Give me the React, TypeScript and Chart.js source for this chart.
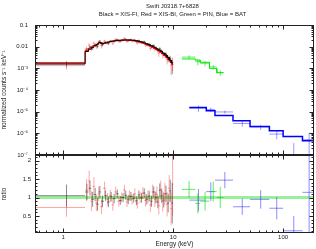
import { useEffect, useRef } from 'react';
import { Chart, registerables } from 'chart.js';

Chart.register(...registerables);

const W = 316;
const H = 249;
const FONT = "'Liberation Sans', Arial, Helvetica, sans-serif";
const INK = '#222';

const TITLE = 'Swift J0318.7+6828';
const SUBTITLE = 'Black = XIS-FI, Red = XIS-BI, Green = PIN, Blue = BAT';
const Y_TOP_TITLE = 'normalized counts s⁻¹ keV⁻¹';
const Y_BOTTOM_TITLE = 'ratio';
const X_TITLE = 'Energy (keV)';

const X_TICK_VALUES = [1, 10, 100];
const X_TICK_LABELS = ['1', '10', '100'];
const Y_TOP_TICK_VALUES = [1e-7, 1e-6, 1e-5, 1e-4, 1e-3, 0.01, 0.1];
const Y_TOP_TICK_LABELS = ['10⁻⁷', '10⁻⁶', '10⁻⁵', '10⁻⁴', '10⁻³', '0.01', '0.1'];
const RATIO_TICK_VALUES = [0.5, 1, 1.5, 2];
const RATIO_TICK_LABELS = ['0.5', '1', '1.5', '2'];

const X_MIN = 0.553;
const X_MAX = 191;
const Y_TOP_MIN = 1e-7;
const Y_TOP_MAX = 0.1;
const RATIO_MIN = 0.04;
const RATIO_MAX = 2.15;

// XIS-FI (black)
const fiEdges = [0.56, 1.58, 1.7, 1.8, 1.9, 2.0, 2.1, 2.2, 2.35, 2.5, 2.65, 2.8, 3.0, 3.2, 3.4, 3.6, 3.8, 4.0, 4.25, 4.5, 4.75, 5.0, 5.3, 5.6, 5.9, 6.2, 6.5, 6.8, 7.1, 7.4, 7.7, 8.0, 8.4, 8.8, 9.2, 9.6, 10.0];
const fiModel = [1.58e-3, 0.006, 0.0076, 0.0093, 0.011, 0.0128, 0.0155, 0.0138, 0.0148, 0.0162, 0.0174, 0.0183, 0.0191, 0.0197, 0.0201, 0.0203, 0.0204, 0.0202, 0.0197, 0.0189, 0.0178, 0.0165, 0.015, 0.0136, 0.0123, 0.011, 0.0098, 0.0087, 0.0077, 0.0068, 0.006, 0.005, 0.0041, 0.0032, 0.0024, 0.0018];
const fiRatio = [1.05, 1.15, 1.25, 0.95, 1.08, 0.82, 1.15, 0.9, 1.05, 0.88, 1.02, 0.97, 1.1, 0.92, 1.0, 1.06, 0.94, 1.03, 0.98, 0.91, 1.07, 0.99, 1.12, 0.95, 1.04, 0.9, 1.15, 1.0, 0.88, 1.2, 1.05, 0.93, 1.1, 0.85, 1.18, 0.85];
const fiRatioErr = [0.3, 0.22, 0.2, 0.2, 0.18, 0.17, 0.16, 0.15, 0.14, 0.14, 0.13, 0.13, 0.12, 0.12, 0.12, 0.12, 0.12, 0.12, 0.12, 0.12, 0.12, 0.13, 0.13, 0.14, 0.14, 0.15, 0.15, 0.16, 0.17, 0.18, 0.19, 0.2, 0.22, 0.25, 0.3, 0.55];

// XIS-BI (red)
const biEdges = [0.56, 1.58, 1.68, 1.76, 1.85, 1.95, 2.05, 2.15, 2.3, 2.45, 2.6, 2.75, 2.9, 3.1, 3.3, 3.5, 3.7, 3.9, 4.1, 4.35, 4.6, 4.85, 5.15, 5.45, 5.75, 6.05, 6.35, 6.65, 6.95, 7.25, 7.55, 7.85, 8.2, 8.6, 9.0, 9.4, 9.75, 10.0];
const biModel = [1.83e-3, 0.0068, 0.0082, 0.0097, 0.0112, 0.0128, 0.0148, 0.015, 0.0145, 0.016, 0.0172, 0.0181, 0.0189, 0.0195, 0.0199, 0.0201, 0.02, 0.0197, 0.0192, 0.0184, 0.0173, 0.016, 0.0146, 0.0132, 0.0118, 0.0105, 0.0093, 0.0082, 0.0072, 0.0063, 0.0055, 0.0047, 0.0039, 0.0031, 0.0025, 0.0019, 0.0015];
const biRatio = [0.73, 1.2, 1.45, 0.9, 1.3, 0.85, 1.1, 0.75, 1.25, 0.95, 1.05, 0.8, 1.15, 0.9, 1.0, 1.2, 0.88, 1.05, 0.95, 1.1, 0.85, 1.0, 1.12, 0.92, 1.02, 0.8, 1.15, 0.95, 1.08, 0.78, 1.2, 0.9, 1.1, 0.82, 1.25, 0.7, 1.35];
const biRatioErr = [0.25, 0.3, 0.28, 0.27, 0.25, 0.22, 0.2, 0.2, 0.18, 0.17, 0.16, 0.16, 0.15, 0.15, 0.14, 0.14, 0.14, 0.14, 0.14, 0.15, 0.15, 0.15, 0.16, 0.17, 0.18, 0.19, 0.2, 0.21, 0.22, 0.24, 0.26, 0.28, 0.3, 0.33, 0.36, 0.45, 0.85];

// HXD-PIN (green)
const pinEdges = [12.0, 15.9, 17.6, 21.4, 24.9, 28.7];
const pinModel = [2.71e-3, 2.4e-3, 1.9e-3, 1.0e-3, 6.3e-4];
const pinRatio = [1.22, 0.84, 0.9, 1.16, 1.0];
const pinRatioErr = [0.23, 0.27, 0.25, 0.27, 0.29];

// BAT (blue)
const batEdges = [14, 20, 24, 35, 50, 75, 100, 150, 195];
const batModel = [1.55e-5, 1.09e-5, 6.6e-6, 3.8e-6, 2.05e-6, 1.3e-6, 7.1e-7, 4.5e-7];
const batRatio = [0.93, 1.16, 1.47, 0.75, 0.95, 0.71, 0.1, 1.14];
const batRatioErr = [0.3, 0.25, 0.22, 0.22, 0.25, 0.3, 0.4, 1.3];

type Pt = { x: number; y: number | null };

function stepLine(edges: number[], vals: number[]): Pt[] {
  const pts: Pt[] = [];
  for (let i = 0; i < vals.length; i++) {
    pts.push({ x: edges[i], y: vals[i] }, { x: edges[i + 1], y: vals[i] });
  }
  return pts;
}

function crosses(edges: number[], ys: number[], errs: number[], floor: number): Pt[] {
  const pts: Pt[] = [];
  for (let i = 0; i < ys.length; i++) {
    const lo = edges[i];
    const hi = edges[i + 1];
    const c = (lo + hi) / 2;
    const y = ys[i];
    const e = errs[i];
    pts.push({ x: lo, y }, { x: hi, y }, { x: hi, y: null });
    pts.push({ x: c, y: Math.max(y - e, floor) }, { x: c, y: y + e }, { x: c, y: null });
  }
  return pts;
}

const mul = (a: number[], b: number[]) => a.map((v, i) => v * b[i]);
const ones = (n: number) => new Array(n).fill(1);

function line(data: Pt[], color: string, width: number, order: number) {
  return {
    data,
    borderColor: color,
    backgroundColor: color,
    borderWidth: width,
    showLine: true,
    pointRadius: 0,
    pointHoverRadius: 0,
    tension: 0,
    fill: false,
    spanGaps: false,
    order,
  };
}

function labelFrom(values: number[], labels: string[], v: number, log: boolean) {
  for (let i = 0; i < values.length; i++) {
    const ok = log
      ? Math.abs(Math.log10(v) - Math.log10(values[i])) < 1e-6
      : Math.abs(v - values[i]) < 1e-6;
    if (ok) return labels[i];
  }
  return '';
}

const frameTicks = {
  id: 'frameTicks',
  afterDatasetsDraw(chart: any, _args: any, opts: any) {
    const { ctx, chartArea: a, scales } = chart;
    const L = Math.round(a.left) + 0.5;
    const R = Math.round(a.right) - 0.5;
    const T = Math.round(a.top) + 0.5;
    const B = Math.round(a.bottom) - 0.5;
    ctx.save();
    ctx.strokeStyle = INK;
    ctx.lineWidth = 1;
    ctx.beginPath();
    const seg = (x1: number, y1: number, x2: number, y2: number) => {
      ctx.moveTo(x1, y1);
      ctx.lineTo(x2, y2);
    };
    const xs = scales.x;
    for (let d = -1; d <= 2; d++) {
      for (let m = 1; m <= 9; m++) {
        const v = m * Math.pow(10, d);
        if (v <= xs.min || v >= xs.max) continue;
        const px = Math.round(xs.getPixelForValue(v)) + 0.5;
        const len = m === 1 ? 4 : 2;
        seg(px, T, px, T + len);
        seg(px, B, px, B - len);
      }
    }
    const ys = scales.y;
    if (opts.yLog) {
      for (let d = -8; d <= 0; d++) {
        for (let m = 1; m <= 9; m++) {
          const v = m * Math.pow(10, d);
          if (v <= ys.min * 1.0001 || v >= ys.max * 0.9999) continue;
          const py = Math.round(ys.getPixelForValue(v)) + 0.5;
          const len = m === 1 ? 4 : 2;
          seg(L, py, L + len, py);
          seg(R, py, R - len, py);
        }
      }
    } else {
      for (let k = 1; k <= 21; k++) {
        const v = k / 10;
        if (v <= ys.min || v >= ys.max) continue;
        const py = Math.round(ys.getPixelForValue(v)) + 0.5;
        const len = k % 5 === 0 ? 4 : 2;
        seg(L, py, L + len, py);
        seg(R, py, R - len, py);
      }
    }
    ctx.stroke();
    ctx.strokeRect(L, T, R - L, B - T);
    ctx.restore();
  },
};

const titlePlugin = {
  id: 'titleText',
  afterDraw(chart: any) {
    const { ctx, chartArea: a } = chart;
    const cx = (a.left + a.right) / 2 - 2;
    ctx.save();
    ctx.fillStyle = INK;
    ctx.font = `6px ${FONT}`;
    ctx.textAlign = 'center';
    ctx.textBaseline = 'middle';
    ctx.fillText(TITLE, cx, 6);
    ctx.fillText(SUBTITLE, cx, 14);
    ctx.restore();
  },
};

const tickFont = { size: 6, family: FONT };
const titleFont = { size: 6.5, family: FONT };

function baseOptions(padding: any) {
  return {
    responsive: false,
    animation: false as const,
    events: [] as any[],
    layout: { padding },
    plugins: {
      legend: { display: false },
      tooltip: { enabled: false },
      title: { display: false },
    },
  };
}

function topConfig(): any {
  const floor = 1e-9;
  return {
    type: 'scatter',
    data: {
      datasets: [
        line(stepLine(fiEdges, fiModel), '#000000', 1, 0),
        line(stepLine(biEdges, biModel), '#ff0000', 1, 0),
        line(stepLine(pinEdges, pinModel), '#00ee00', 1, 0),
        line(stepLine(batEdges, batModel), '#0000ff', 1.5, 0),
        line(crosses(fiEdges, mul(fiModel, fiRatio), mul(fiModel, fiRatioErr), floor), 'rgba(0,0,0,0.45)', 1, 2),
        line(crosses(biEdges, mul(biModel, biRatio), mul(biModel, biRatioErr), floor), 'rgba(255,0,0,0.35)', 1, 1),
        line(crosses(pinEdges, mul(pinModel, pinRatio), mul(pinModel, pinRatioErr), floor), 'rgba(0,220,0,0.6)', 1, 1),
        line(crosses(batEdges, mul(batModel, batRatio), mul(batModel, batRatioErr), floor), 'rgba(0,0,255,0.4)', 1, 1),
      ],
    },
    options: {
      ...baseOptions({ top: 25, left: 0, right: 2, bottom: 94 }),
      plugins: {
        legend: { display: false },
        tooltip: { enabled: false },
        title: { display: false },
        frameTicks: { yLog: true },
      },
      scales: {
        x: {
          type: 'logarithmic',
          min: X_MIN,
          max: X_MAX,
          grid: { display: false, drawTicks: false },
          border: { display: false },
          ticks: { display: false },
          afterFit: (s: any) => {
            s.height = 0;
          },
        },
        y: {
          type: 'logarithmic',
          min: Y_TOP_MIN,
          max: Y_TOP_MAX,
          grid: { display: false, drawTicks: false },
          border: { display: false },
          ticks: {
            autoSkip: false,
            maxRotation: 0,
            padding: 7,
            font: tickFont,
            color: INK,
            callback: (v: any) => labelFrom(Y_TOP_TICK_VALUES, Y_TOP_TICK_LABELS, Number(v), true),
          },
          title: {
            display: true,
            text: Y_TOP_TITLE,
            font: titleFont,
            color: INK,
            padding: { top: 0.5, bottom: 0 },
          },
          afterFit: (s: any) => {
            s.width = 35;
          },
        },
      },
    },
    plugins: [frameTicks, titlePlugin],
  };
}

function bottomConfig(): any {
  const nFi = fiRatio.length;
  const nBi = biRatio.length;
  const nPin = pinRatio.length;
  const nBat = batRatio.length;
  return {
    type: 'scatter',
    data: {
      datasets: [
        line(stepLine([0.3, 300], ones(1)), 'rgba(120,235,120,0.75)', 3, 5),
        line(crosses(fiEdges, fiRatio, fiRatioErr, -1), 'rgba(0,0,0,0.45)', 1, 2),
        line(crosses(biEdges, biRatio, biRatioErr, -1), 'rgba(255,0,0,0.35)', 1, 1),
        line(crosses(pinEdges, pinRatio, pinRatioErr, -1), 'rgba(0,220,0,0.6)', 1, 1),
        line(crosses(batEdges, batRatio, batRatioErr, -1), 'rgba(0,0,255,0.45)', 1, 1),
      ].map((d, i) => (i === 0 ? { ...d, order: 6 } : d)),
    },
    options: {
      ...baseOptions({ top: 155, left: 0, right: 2, bottom: 0 }),
      plugins: {
        legend: { display: false },
        tooltip: { enabled: false },
        title: { display: false },
        frameTicks: { yLog: false, n: nFi + nBi + nPin + nBat },
      },
      scales: {
        x: {
          type: 'logarithmic',
          min: X_MIN,
          max: X_MAX,
          grid: { display: false, drawTicks: false },
          border: { display: false },
          ticks: {
            autoSkip: false,
            maxRotation: 0,
            minRotation: 0,
            padding: 1,
            font: tickFont,
            color: INK,
            callback: (v: any) => labelFrom(X_TICK_VALUES, X_TICK_LABELS, Number(v), true),
          },
          title: {
            display: true,
            text: X_TITLE,
            font: titleFont,
            color: INK,
            padding: { top: 0, bottom: 0.6 },
          },
          afterFit: (s: any) => {
            s.height = 16;
          },
        },
        y: {
          type: 'linear',
          min: RATIO_MIN,
          max: RATIO_MAX,
          grid: { display: false, drawTicks: false },
          border: { display: false },
          ticks: {
            stepSize: 0.5,
            includeBounds: false,
            autoSkip: false,
            padding: 4,
            font: tickFont,
            color: INK,
            callback: (v: any) => labelFrom(RATIO_TICK_VALUES, RATIO_TICK_LABELS, Number(v), false),
          },
          title: {
            display: true,
            text: Y_BOTTOM_TITLE,
            font: titleFont,
            color: INK,
            padding: { top: 0.5, bottom: 0 },
          },
          afterFit: (s: any) => {
            s.width = 35;
          },
        },
      },
    },
    plugins: [frameTicks],
  };
}

export default function App() {
  const topRef = useRef<HTMLCanvasElement>(null);
  const botRef = useRef<HTMLCanvasElement>(null);
  useEffect(() => {
    const top = new Chart(topRef.current as HTMLCanvasElement, topConfig());
    const bot = new Chart(botRef.current as HTMLCanvasElement, bottomConfig());
    return () => {
      top.destroy();
      bot.destroy();
    };
  }, []);
  const cstyle: any = { position: 'absolute', left: 0, top: 0, width: W, height: H };
  return (
    <div style={{ position: 'fixed', left: 0, top: 0, width: W, height: H, background: '#ffffff' }}>
      <canvas ref={topRef} width={W} height={H} style={cstyle} />
      <canvas ref={botRef} width={W} height={H} style={cstyle} />
    </div>
  );
}
